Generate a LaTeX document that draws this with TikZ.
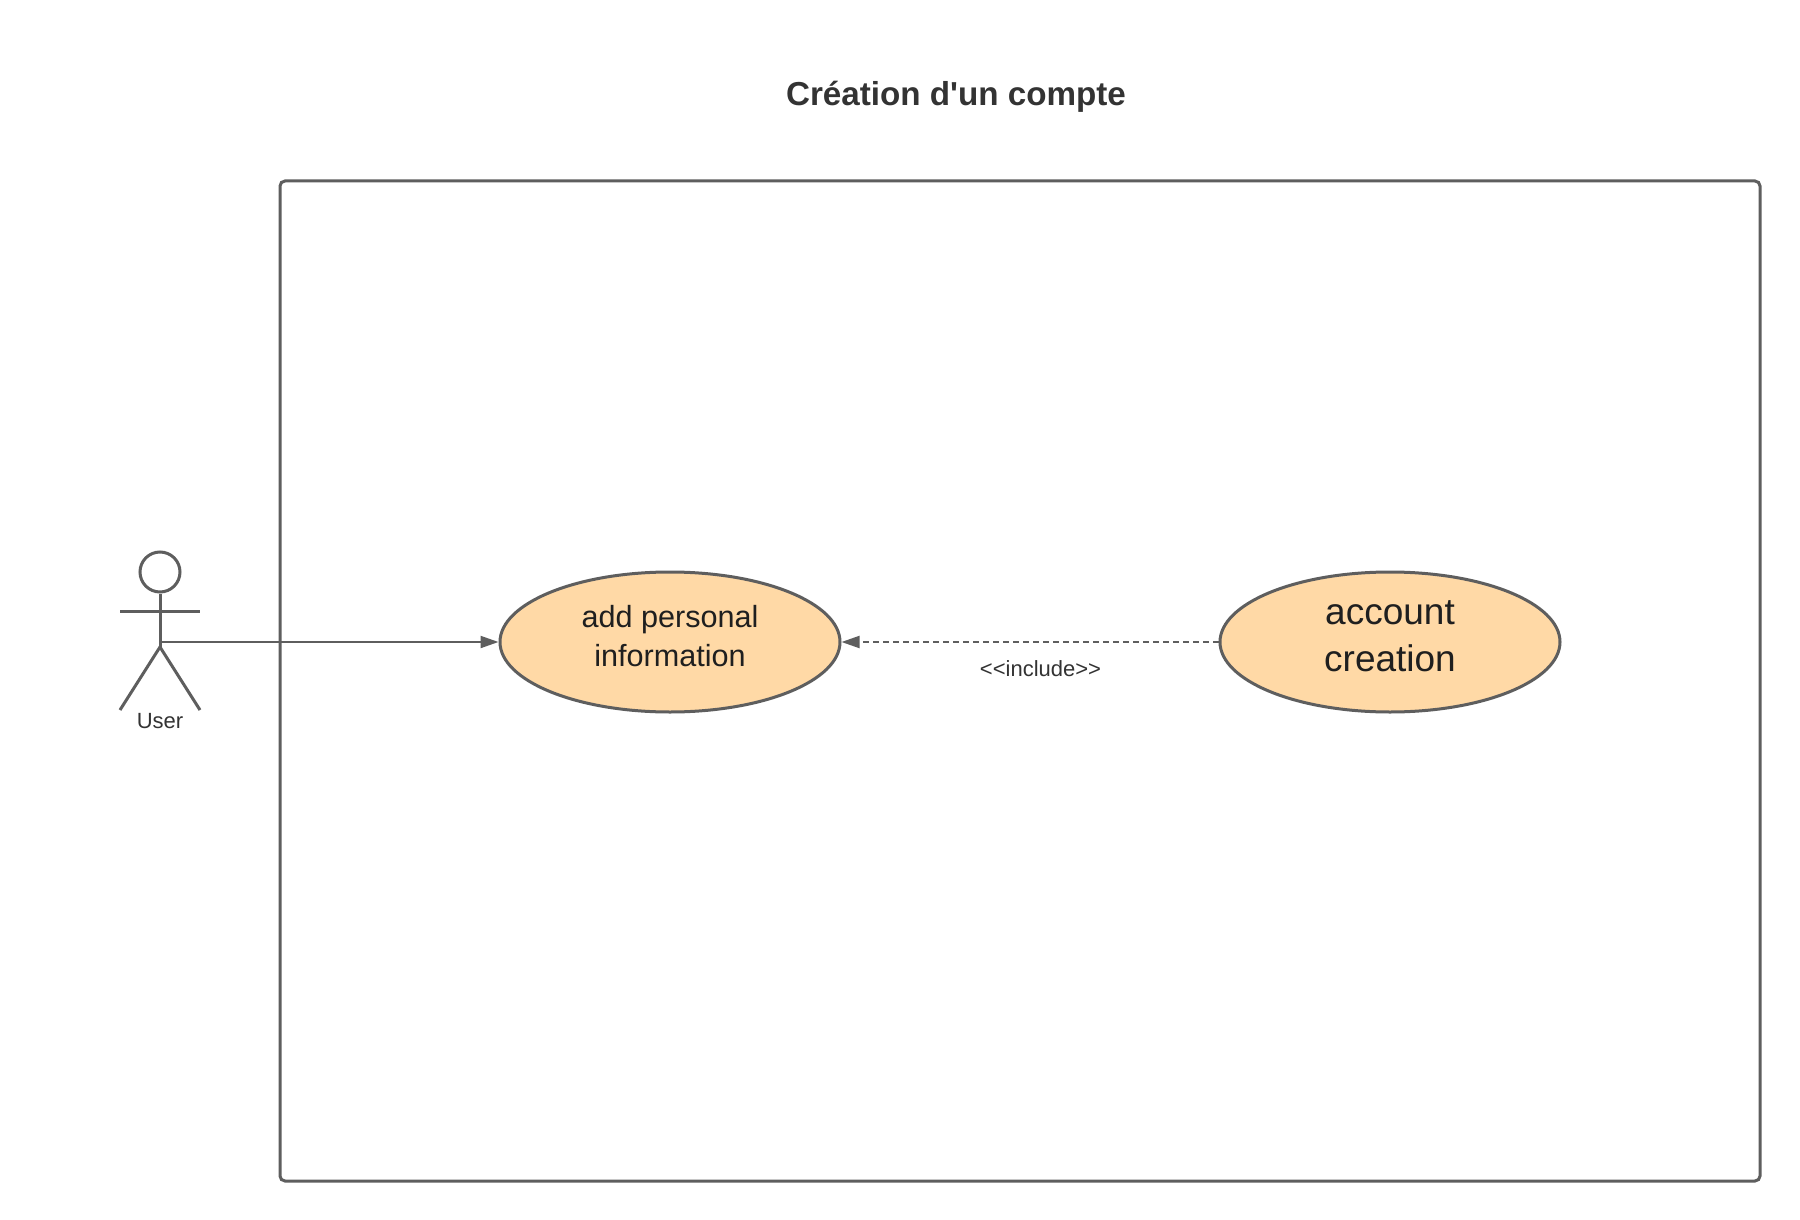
\documentclass[tikz,border=0pt]{standalone}
\usepackage{fontspec}
\setmainfont{Liberation Sans}[Ligatures=TeXOff]
\usetikzlibrary{shapes.geometric,arrows.meta}
\definecolor{linegray}{HTML}{5E5E5E}
\definecolor{inkdark}{HTML}{1F1F1F}
\definecolor{inkmid}{HTML}{333333}
\definecolor{peach}{HTML}{FFD9A6}
\tikzset{
  x=1pt,y=-1pt,
  usecase/.style={ellipse,draw=linegray,fill=peach,line width=3pt,minimum width=340pt,minimum height=140pt,inner sep=0pt},
  casetext/.style={text=inkdark,align=center,inner sep=0pt,yshift=5.8pt},
  smalltext/.style={text=inkmid,inner sep=0pt,font=\fontsize{22}{26}\selectfont},
  limb/.style={draw=linegray,line width=3pt},
  flow/.style={draw=linegray,line width=2pt,-{Triangle[length=18pt,width=12pt]}},
}
\begin{document}
\begin{tikzpicture}
\useasboundingbox (0,0) rectangle (1800,1220);
\fill[white] (0,0) rectangle (1800,1220);
\node[text=inkmid,font=\fontsize{33.2}{38}\selectfont\bfseries,inner sep=0pt] (title) at (956,96.5) {Création d'un compte};
\draw[draw=linegray,line width=3pt,rounded corners=5pt] (280,181) rectangle (1760,1181);
% actor
\node[circle,draw=linegray,line width=3pt,minimum size=40pt,inner sep=0pt] (head) at (160,572) {};
\coordinate (crotch) at (160,647);
\coordinate (armL) at (120,611);
\coordinate (armR) at (200,611);
\coordinate (footL) at (120,710);
\coordinate (footR) at (200,710);
\coordinate (hip) at (160,642);
\draw[limb] (head.south) -- (crotch);
\draw[limb] (armL) -- (armR);
\draw[limb] (footL) -- (crotch) -- (footR);
\node[smalltext] (user) at (160,721) {User};
% use cases
\node[usecase,label={[casetext,font=\fontsize{30.6}{39.5}\selectfont]center:add personal\\information}] (add) at (670,642) {};
\node[usecase,label={[casetext,font=\fontsize{37}{47.5}\selectfont]center:account\\creation}] (acc) at (1390,642) {};
% connectors
\draw[flow] (hip) -- (add.west);
\draw[flow,dash pattern=on 6pt off 4pt] (acc.west) -- (add.east);
\node[smalltext] (inc) at (1040.5,669) {<<include>>};
\end{tikzpicture}
\end{document}
